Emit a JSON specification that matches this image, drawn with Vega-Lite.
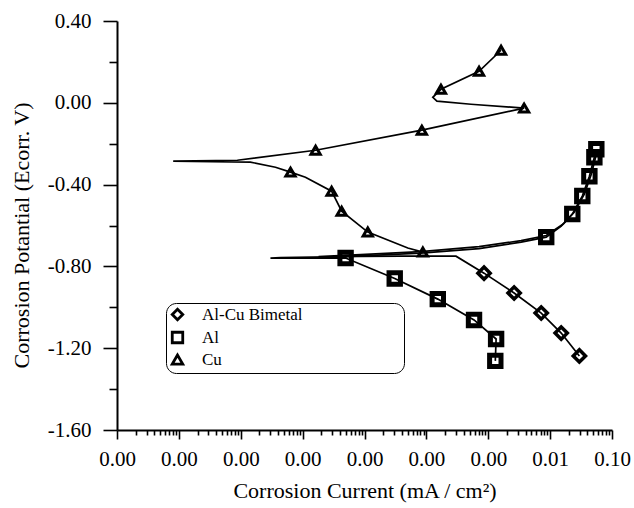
{
  "$schema": "https://vega.github.io/schema/vega-lite/v6.json",
  "width": 495,
  "height": 409,
  "autosize": {"type": "none"},
  "padding": {"left": 117, "top": 21, "right": 22, "bottom": 78},
  "background": "white",
  "config": {
    "view": {"stroke": null},
    "font": "Liberation Serif",
    "axis": {
      "grid": false,
      "domainColor": "black",
      "domainWidth": 2,
      "tickColor": "black",
      "tickWidth": 1.6,
      "labelColor": "black",
      "titleColor": "black",
      "labelFont": "Liberation Serif",
      "titleFont": "Liberation Serif",
      "titleFontWeight": "normal",
      "labelFontSize": 21,
      "labelOverlap": false,
      "labelFlush": false
    },
    "legend": {
      "orient": "none",
      "legendX": 49,
      "legendY": 282,
      "strokeColor": "black",
      "cornerRadius": 10,
      "padding": 3,
      "labelFont": "Liberation Serif",
      "labelFontSize": 17,
      "labelColor": "black",
      "labelLimit": 0,
      "labelOffset": 16,
      "rowPadding": 0,
      "symbolSize": 110,
      "symbolStrokeWidth": 2.8
    }
  },
  "datasets": {
    "curves": [
      {"series": "Cu", "seq": 1, "current": 8.77e-5, "potential": -0.730},
      {"series": "Cu", "seq": 2, "current": 5.01e-5, "potential": -0.710},
      {"series": "Cu", "seq": 3, "current": 1.13e-5, "potential": -0.632},
      {"series": "Cu", "seq": 4, "current": 4.27e-6, "potential": -0.530},
      {"series": "Cu", "seq": 5, "current": 2.94e-6, "potential": -0.432},
      {"series": "Cu", "seq": 6, "current": 1.11e-6, "potential": -0.364},
      {"series": "Cu", "seq": 7, "current": 6.37e-7, "potential": -0.339},
      {"series": "Cu", "seq": 8, "current": 3.64e-7, "potential": -0.315},
      {"series": "Cu", "seq": 9, "current": 1.43e-7, "potential": -0.290},
      {"series": "Cu", "seq": 10, "current": 8.09e-9, "potential": -0.285},
      {"series": "Cu", "seq": 11, "current": 8.81e-8, "potential": -0.281},
      {"series": "Cu", "seq": 12, "current": 1.62e-6, "potential": -0.232},
      {"series": "Cu", "seq": 13, "current": 8.45e-5, "potential": -0.134},
      {"series": "Cu", "seq": 14, "current": 3.80e-3, "potential": -0.026},
      {"series": "Cu", "seq": 15, "current": 5.26e-4, "potential": -0.007},
      {"series": "Cu", "seq": 16, "current": 1.48e-4, "potential": 0.008},
      {"series": "Cu", "seq": 17, "current": 1.27e-4, "potential": 0.027},
      {"series": "Cu", "seq": 18, "current": 1.72e-4, "potential": 0.066},
      {"series": "Cu", "seq": 19, "current": 7.10e-4, "potential": 0.154},
      {"series": "Cu", "seq": 20, "current": 1.61e-3, "potential": 0.257},
      {"series": "Al", "seq": 1, "current": 1.30e-3, "potential": -1.262},
      {"series": "Al", "seq": 2, "current": 1.34e-3, "potential": -1.155},
      {"series": "Al", "seq": 3, "current": 5.89e-4, "potential": -1.062},
      {"series": "Al", "seq": 4, "current": 1.53e-4, "potential": -0.960},
      {"series": "Al", "seq": 5, "current": 3.08e-5, "potential": -0.859},
      {"series": "Al", "seq": 6, "current": 4.95e-6, "potential": -0.759},
      {"series": "Al", "seq": 7, "current": 3.02e-7, "potential": -0.760},
      {"series": "Al", "seq": 8, "current": 4.39e-7, "potential": -0.757},
      {"series": "Al", "seq": 9, "current": 4.95e-6, "potential": -0.752},
      {"series": "Al", "seq": 10, "current": 8.15e-5, "potential": -0.735},
      {"series": "Al", "seq": 11, "current": 7.10e-4, "potential": -0.713},
      {"series": "Al", "seq": 12, "current": 3.40e-3, "potential": -0.681},
      {"series": "Al", "seq": 13, "current": 8.65e-3, "potential": -0.657},
      {"series": "Al", "seq": 14, "current": 1.51e-2, "potential": -0.603},
      {"series": "Al", "seq": 15, "current": 2.28e-2, "potential": -0.544},
      {"series": "Al", "seq": 16, "current": 3.31e-2, "potential": -0.456},
      {"series": "Al", "seq": 17, "current": 4.31e-2, "potential": -0.359},
      {"series": "Al", "seq": 18, "current": 5.19e-2, "potential": -0.266},
      {"series": "Al", "seq": 19, "current": 5.58e-2, "potential": -0.227},
      {"series": "Al-Cu Bimetal", "seq": 1, "current": 2.97e-2, "potential": -1.238},
      {"series": "Al-Cu Bimetal", "seq": 2, "current": 1.51e-2, "potential": -1.126},
      {"series": "Al-Cu Bimetal", "seq": 3, "current": 7.18e-3, "potential": -1.028},
      {"series": "Al-Cu Bimetal", "seq": 4, "current": 2.62e-3, "potential": -0.930},
      {"series": "Al-Cu Bimetal", "seq": 5, "current": 8.55e-4, "potential": -0.833},
      {"series": "Al-Cu Bimetal", "seq": 6, "current": 3.01e-4, "potential": -0.750},
      {"series": "Al-Cu Bimetal", "seq": 7, "current": 3.86e-5, "potential": -0.750},
      {"series": "Al-Cu Bimetal", "seq": 8, "current": 1.81e-6, "potential": -0.752},
      {"series": "Al-Cu Bimetal", "seq": 9, "current": 8.67e-6, "potential": -0.742},
      {"series": "Al-Cu Bimetal", "seq": 10, "current": 8.15e-5, "potential": -0.728},
      {"series": "Al-Cu Bimetal", "seq": 11, "current": 7.10e-4, "potential": -0.703},
      {"series": "Al-Cu Bimetal", "seq": 12, "current": 3.40e-3, "potential": -0.674},
      {"series": "Al-Cu Bimetal", "seq": 13, "current": 8.65e-3, "potential": -0.649},
      {"series": "Al-Cu Bimetal", "seq": 14, "current": 1.63e-2, "potential": -0.593},
      {"series": "Al-Cu Bimetal", "seq": 15, "current": 2.45e-2, "potential": -0.535},
      {"series": "Al-Cu Bimetal", "seq": 16, "current": 3.57e-2, "potential": -0.447},
      {"series": "Al-Cu Bimetal", "seq": 17, "current": 4.63e-2, "potential": -0.349},
      {"series": "Al-Cu Bimetal", "seq": 18, "current": 5.79e-2, "potential": -0.232}
    ],
    "markers": [
      {"series": "Cu", "current": 8.77e-5, "potential": -0.730},
      {"series": "Cu", "current": 1.13e-5, "potential": -0.632},
      {"series": "Cu", "current": 4.27e-6, "potential": -0.530},
      {"series": "Cu", "current": 2.94e-6, "potential": -0.432},
      {"series": "Cu", "current": 6.37e-7, "potential": -0.339},
      {"series": "Cu", "current": 1.62e-6, "potential": -0.232},
      {"series": "Cu", "current": 8.45e-5, "potential": -0.134},
      {"series": "Cu", "current": 3.80e-3, "potential": -0.026},
      {"series": "Cu", "current": 1.72e-4, "potential": 0.066},
      {"series": "Cu", "current": 7.10e-4, "potential": 0.154},
      {"series": "Cu", "current": 1.61e-3, "potential": 0.257},
      {"series": "Al", "current": 1.30e-3, "potential": -1.262},
      {"series": "Al", "current": 1.34e-3, "potential": -1.155},
      {"series": "Al", "current": 5.89e-4, "potential": -1.062},
      {"series": "Al", "current": 1.53e-4, "potential": -0.960},
      {"series": "Al", "current": 3.08e-5, "potential": -0.859},
      {"series": "Al", "current": 4.95e-6, "potential": -0.759},
      {"series": "Al", "current": 8.65e-3, "potential": -0.657},
      {"series": "Al", "current": 2.28e-2, "potential": -0.544},
      {"series": "Al", "current": 3.31e-2, "potential": -0.456},
      {"series": "Al", "current": 4.31e-2, "potential": -0.359},
      {"series": "Al", "current": 5.19e-2, "potential": -0.266},
      {"series": "Al", "current": 5.58e-2, "potential": -0.227},
      {"series": "Al-Cu Bimetal", "current": 2.97e-2, "potential": -1.238},
      {"series": "Al-Cu Bimetal", "current": 1.51e-2, "potential": -1.126},
      {"series": "Al-Cu Bimetal", "current": 7.18e-3, "potential": -1.028},
      {"series": "Al-Cu Bimetal", "current": 2.62e-3, "potential": -0.930},
      {"series": "Al-Cu Bimetal", "current": 8.55e-4, "potential": -0.833}
    ]
  },
  "layer": [
    {
      "data": {"name": "curves"},
      "mark": {"type": "line", "color": "black", "strokeWidth": 1.7},
      "encoding": {
        "x": {
          "field": "current",
          "type": "quantitative",
          "scale": {"type": "log", "domain": [1e-9, 0.1], "nice": false},
          "axis": {
            "title": "Corrosion Current (mA / cm²)",
            "titleFontSize": 22,
            "titlePadding": 11,
            "labelPadding": 9,
            "values": [1e-9,2e-9,3e-9,4e-9,5e-9,6e-9,7e-9,8e-9,9e-9,
                       1e-8,2e-8,3e-8,4e-8,5e-8,6e-8,7e-8,8e-8,9e-8,
                       1e-7,2e-7,3e-7,4e-7,5e-7,6e-7,7e-7,8e-7,9e-7,
                       1e-6,2e-6,3e-6,4e-6,5e-6,6e-6,7e-6,8e-6,9e-6,
                       1e-5,2e-5,3e-5,4e-5,5e-5,6e-5,7e-5,8e-5,9e-5,
                       1e-4,2e-4,3e-4,4e-4,5e-4,6e-4,7e-4,8e-4,9e-4,
                       1e-3,2e-3,3e-3,4e-3,5e-3,6e-3,7e-3,8e-3,9e-3,
                       1e-2,2e-2,3e-2,4e-2,5e-2,6e-2,7e-2,8e-2,9e-2,
                       0.1],
            "tickSize": {"condition": {"test": "abs(log(datum.value)/LN10 - round(log(datum.value)/LN10)) < 0.001", "value": 9}, "value": 5},
            "labelExpr": "abs(log(datum.value)/LN10 - round(log(datum.value)/LN10)) < 0.001 ? format(datum.value, '.2f') : ''"
          }
        },
        "y": {
          "field": "potential",
          "type": "quantitative",
          "scale": {"domain": [-1.6, 0.4], "nice": false, "zero": false},
          "axis": {
            "title": "Corrosion Potantial (Ecorr. V)",
            "titleFontSize": 22,
            "titleX": -84,
            "titleY": 214,
            "labelPadding": 12,
            "values": [-1.6, -1.4, -1.2, -1.0, -0.8, -0.6, -0.4, -0.2, 0, 0.2, 0.4],
            "tickSize": {"condition": {"test": "abs(datum.value/0.4 - round(datum.value/0.4)) < 0.01", "value": 14}, "value": 8},
            "labelExpr": "abs(datum.value/0.4 - round(datum.value/0.4)) < 0.01 ? replace(format(datum.value, '.2f'), '\u2212', '-') : ''"
          }
        },
        "detail": {"field": "series", "type": "nominal"},
        "order": {"field": "seq", "type": "quantitative"}
      }
    },
    {
      "data": {"name": "markers"},
      "transform": [{"filter": "datum.series === 'Al-Cu Bimetal'"}],
      "mark": {"type": "point", "filled": false, "stroke": "black", "opacity": 1, "size": 150, "strokeWidth": 3.5},
      "encoding": {
        "x": {"field": "current", "type": "quantitative"},
        "y": {"field": "potential", "type": "quantitative"},
        "shape": {
          "field": "series",
          "type": "nominal",
          "scale": {"domain": ["Al-Cu Bimetal", "Al", "Cu"], "range": ["diamond", "square", "triangle-up"]},
          "legend": {
            "title": null,
            "labelExpr": "pad(datum.label, 36, '\u00a0') + '\u200b'",
            "encode": {
              "legend": {"update": {"strokeWidth": {"value": 1.8}}}
            }
          }
        }
      }
    },
    {
      "data": {"name": "markers"},
      "transform": [{"filter": "datum.series === 'Al'"}],
      "mark": {"type": "point", "filled": false, "stroke": "black", "opacity": 1, "size": 130, "strokeWidth": 5},
      "encoding": {
        "x": {"field": "current", "type": "quantitative"},
        "y": {"field": "potential", "type": "quantitative"},
        "shape": {"field": "series", "type": "nominal"}
      }
    },
    {
      "data": {"name": "markers"},
      "transform": [{"filter": "datum.series === 'Cu'"}],
      "mark": {"type": "point", "filled": false, "stroke": "black", "opacity": 1, "size": 85, "strokeWidth": 3},
      "encoding": {
        "x": {"field": "current", "type": "quantitative"},
        "y": {"field": "potential", "type": "quantitative"},
        "shape": {"field": "series", "type": "nominal"}
      }
    }
  ]
}
